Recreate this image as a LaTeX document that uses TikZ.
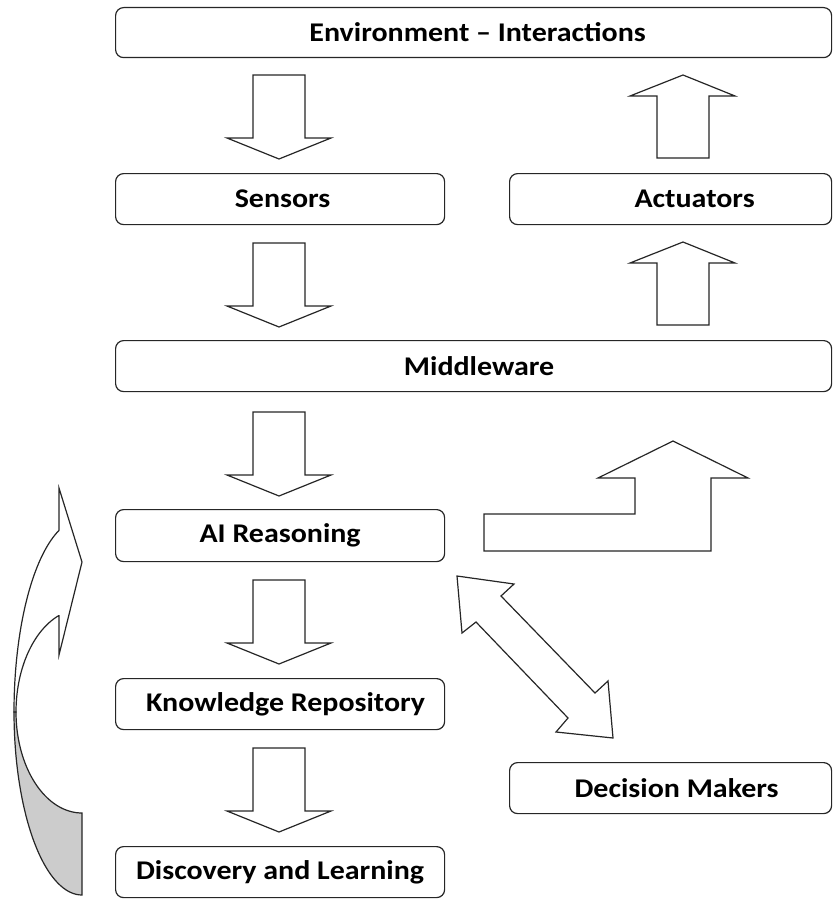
\documentclass[tikz,border=0pt]{standalone}
\usepackage{graphicx}
\usepackage{fontspec}
\setmainfont{Carlito}
% wide bold label text, shifted right by #1 from the box centre
\newcommand{\boxtext}[2][0pt]{\hspace*{#1}\hspace*{#1}\scalebox{1.11}[1]{#2}}
\begin{document}
\begin{tikzpicture}[x=1pt,y=-1pt,
  box/.style={draw=black!85,line width=1.2pt,rounded corners=8pt,fill=white,
    font=\fontsize{27}{31}\selectfont\bfseries,inner sep=0pt,anchor=north west},
  shape line/.style={draw=black!85,line width=1.2pt,line join=miter,fill=white}]
\useasboundingbox (0,0) rectangle (833,899);

% boxes: (left, top) corner, width, height
\node[box,minimum width=716pt,minimum height=50pt] (env) at (115,7) {\boxtext[4pt]{Environment -- Interactions}};
\node[box,minimum width=329pt,minimum height=51pt] (sen) at (115,173) {\boxtext[2.5pt]{Sensors}};
\node[box,minimum width=322pt,minimum height=51pt] (act) at (509,173) {\boxtext[24pt]{Actuators}};
\node[box,minimum width=716pt,minimum height=51pt] (mid) at (115,340) {\boxtext[5.5pt]{Middleware}};
\node[box,minimum width=329pt,minimum height=52pt] (ai)  at (115,509) {\boxtext{AI Reasoning}};
\node[box,minimum width=329pt,minimum height=51pt] (kr)  at (115,678) {\boxtext[5.5pt]{Knowledge Repository}};
\node[box,minimum width=329pt,minimum height=51pt] (dl)  at (115,846) {\boxtext{Discovery and Learning}};
\node[box,minimum width=322pt,minimum height=51pt] (dm)  at (509,762) {\boxtext[6pt]{Decision Makers}};

% block arrow pointing down, shaft top given
\newcommand{\downblock}[1]{%
  \draw[shape line] (253,#1) -- (305,#1) -- (305,#1+63) -- (331,#1+63)
    -- (279,#1+84) -- (227,#1+63) -- (253,#1+63) -- cycle;}
% block arrow pointing up, shaft bottom given
\newcommand{\upblock}[1]{%
  \draw[shape line] (657,#1) -- (709,#1) -- (709,#1-62) -- (735,#1-62)
    -- (683,#1-83) -- (630,#1-62) -- (657,#1-62) -- cycle;}

\downblock{75}
\downblock{243}
\downblock{412}
\downblock{580}
\downblock{748}
\upblock{158}
\upblock{325}

% bent arrow from AI Reasoning towards Actuators
\draw[shape line] (484,551) -- (484,514) -- (635,514) -- (635,478) -- (598,478)
  -- (673,441) -- (748,478) -- (711,478) -- (711,551) -- cycle;

% two-headed arrow between AI Reasoning and Decision Makers
\draw[shape line] (457,576) -- (514,584) -- (501,596) -- (595,693) -- (608,681)
  -- (613,738) -- (556,732) -- (568,718) -- (476,622) -- (462,633) -- cycle;

% curved feedback arrow from Discovery and Learning back to AI Reasoning
\draw[shape line,fill=black!20]
  plot[domain=90:180,samples=40,variable=\t] ({82+68*cos(\t)},{712+183*sin(\t)})
  -- plot[domain=180:90,samples=40,variable=\t] ({82+66*cos(\t)},{712+101*sin(\t)})
  -- cycle;
\draw[shape line]
  plot[domain=180:250.3,samples=40,variable=\t] ({82+68*cos(\t)},{712+193*sin(\t)})
  -- (59,488) -- (82,562) -- (59,655) -- (59,615)
  -- plot[domain=249.6:180,samples=40,variable=\t] ({82+66*cos(\t)},{712+103*sin(\t)})
  -- cycle;
\end{tikzpicture}
\end{document}
